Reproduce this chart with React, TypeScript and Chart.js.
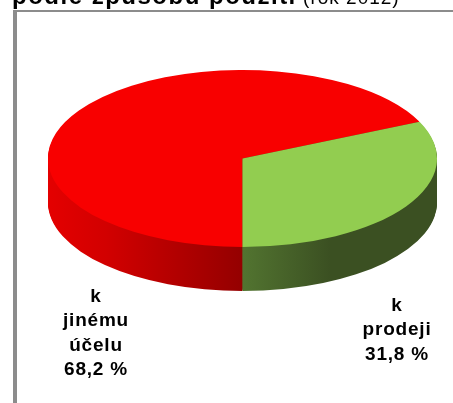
import React, { useEffect, useRef } from "react";
import { Chart, registerables } from "chart.js";

Chart.register(...registerables);

const categories = ["k jinému účelu", "k prodeji"];
const categoryLines = [["k", "jinému", "účelu"], ["k", "prodeji"]];
const values = [68.2, 31.8];
const valueLabels = ["68,2 %", "31,8 %"];
const titleBold = "podle způsobu použití";
const titleNormal = " (rok 2012)";

const topColors = ["#F80000", "#92CD50"];

const W = 453;
const H = 403;
const TOP_CY = 158.5;
const SY = 88.5 / 194.5;
const DEPTH = 44;

const pie3d = {
  id: "pie3d",
  beforeDraw(chart: any) {
    const ctx = chart.ctx;
    ctx.save();
    ctx.fillStyle = "#ffffff";
    ctx.fillRect(0, 0, W, H);
    ctx.fillStyle = "#8C8C8C";
    ctx.fillRect(13, 10, W - 13, 2);
    ctx.fillRect(13, 10, 4, H - 10);
    ctx.restore();
  },
  beforeDatasetsDraw(chart: any) {
    const ctx = chart.ctx;
    const meta = chart.getDatasetMeta(0);
    const a0 = meta.data[0];
    const cx = a0.x;
    const cy = a0.y;
    const R = a0.outerRadius;
    const gRed = ctx.createLinearGradient(cx - R, 0, cx, 0);
    gRed.addColorStop(0, "#E40000");
    gRed.addColorStop(0.3, "#D20000");
    gRed.addColorStop(1, "#940000");
    const gGreen = ctx.createLinearGradient(cx, 0, cx + R, 0);
    gGreen.addColorStop(0, "#527430");
    gGreen.addColorStop(0.45, "#3B5022");
    gGreen.addColorStop(1, "#3B5022");
    const grads = [gRed, gGreen];
    for (let i = DEPTH; i >= 1; i--) {
      meta.data.forEach((arc: any, k: number) => {
        ctx.save();
        ctx.translate(0, TOP_CY + i);
        ctx.scale(1, SY);
        ctx.translate(0, -cy);
        ctx.beginPath();
        ctx.moveTo(cx, cy);
        ctx.arc(cx, cy, R, arc.startAngle, arc.endAngle);
        ctx.closePath();
        ctx.fillStyle = grads[k];
        ctx.fill();
        ctx.restore();
      });
    }
    ctx.save();
    ctx.translate(0, TOP_CY);
    ctx.scale(1, SY);
    ctx.translate(0, -cy);
  },
  afterDatasetsDraw(chart: any) {
    chart.ctx.restore();
  },
  afterDraw(chart: any) {
    const ctx = chart.ctx;
    ctx.save();
    ctx.fillStyle = "#000000";
    ctx.textBaseline = "alphabetic";
    // title (cut off at top)
    ctx.textAlign = "left";
    (ctx as any).letterSpacing = "1.5px";
    ctx.font = 'bold 24px "Liberation Sans", Arial, sans-serif';
    ctx.fillText(titleBold, 12, 4);
    const wb = ctx.measureText(titleBold).width;
    (ctx as any).letterSpacing = "1px";
    ctx.font = '19px "Liberation Sans", Arial, sans-serif';
    ctx.fillText(titleNormal, 12 + wb, 4);
    // slice labels
    ctx.textAlign = "center";
    ctx.font = 'bold 19px "Liberation Sans", Arial, sans-serif';
    (ctx as any).letterSpacing = "0.8px";
    const anchors = [
      { x: 96, y: 302 },
      { x: 397, y: 311 },
    ];
    categoryLines.forEach((lines, k) => {
      const all = [...lines, valueLabels[k]];
      all.forEach((t, j) => {
        ctx.fillText(t, anchors[k].x, anchors[k].y + j * 24.3);
      });
    });
    ctx.restore();
  },
};

export default function App() {
  const ref = useRef<HTMLCanvasElement | null>(null);
  useEffect(() => {
    if (!ref.current) return;
    const chart = new Chart(ref.current, {
      type: "pie",
      data: {
        labels: categories,
        datasets: [
          {
            data: values,
            backgroundColor: topColors,
            borderWidth: 0,
          },
        ],
      },
      options: {
        responsive: false,
        animation: false,
        events: [],
        rotation: 180,
        layout: { padding: { left: 48, right: 16, top: 7, bottom: 7 } },
        plugins: {
          legend: { display: false },
          tooltip: { enabled: false },
          title: { display: false },
        },
      },
      plugins: [pie3d],
    } as any);
    return () => chart.destroy();
  }, []);
  return (
    <div style={{ position: "fixed", left: 0, top: 0, width: W, height: H, background: "#fff" }}>
      <canvas ref={ref} width={W} height={H} style={{ display: "block" }} />
    </div>
  );
}
